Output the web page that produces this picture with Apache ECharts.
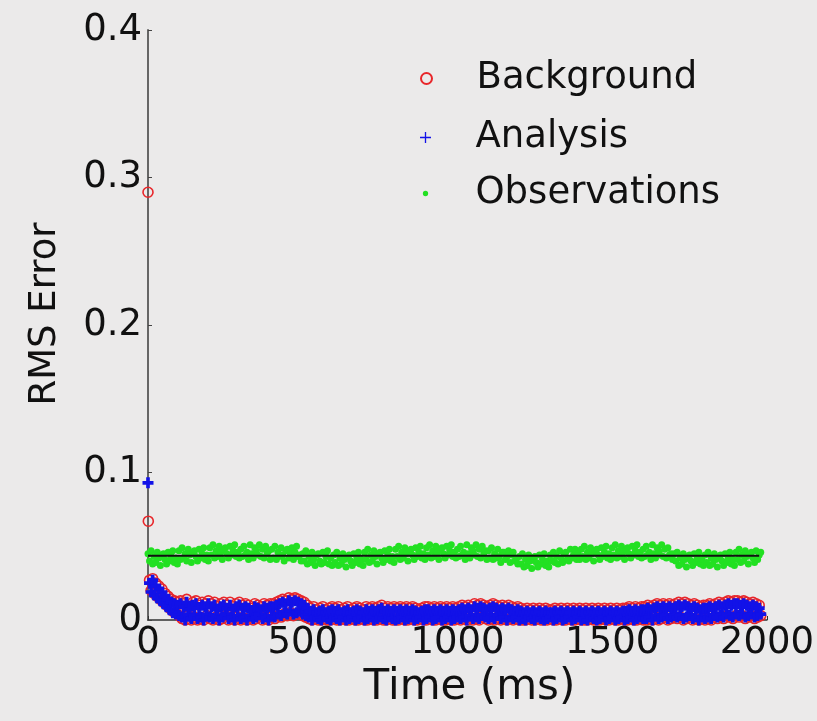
<!DOCTYPE html>
<html><head><meta charset="utf-8">
<script src="https://cdn.jsdelivr.net/npm/echarts@6/dist/echarts.min.js"></script>
<style>html,body{margin:0;padding:0;background:#ebeaea}#c{width:817px;height:721px}</style>
</head><body><div id="c"></div>
<script>
// ---- data ----
const xTickLabels = ['0', '500', '1000', '1500', '2000'];
const xTicks = [0, 500, 1000, 1500, 2000];
const yTicks = [0, 0.1, 0.2, 0.3, 0.4];
const stepMs = 5;
// first cycles (drawn at t ~ 0)
const backgroundStartT = [0, 1];
const backgroundStartV = [0.290, 0.067];
const analysisStartT = [0];
const analysisStartV = [0.093];
// regular samples, t = 5, 10, ... 1980 ms
const analysisRms = [
0.025,0.019,0.027,0.017,0.023,0.015,0.021,0.013,0.019,0.011,0.016,0.009,0.014,0.007,0.012,0.005,0.011,0.004,0.010,0.003,
0.011,0.002,0.009,0.000,0.012,0.004,0.007,0.001,0.010,0.003,0.011,0.001,0.008,0.002,0.010,0.000,0.009,0.004,0.011,0.002,
0.009,0.001,0.010,0.003,0.007,0.000,0.009,0.002,0.010,0.004,0.008,0.001,0.010,0.002,0.007,0.000,0.009,0.003,0.010,0.001,
0.008,0.002,0.009,0.000,0.008,0.003,0.006,0.001,0.009,0.002,0.008,0.004,0.007,0.001,0.009,0.002,0.008,0.000,0.009,0.003,
0.009,0.002,0.010,0.004,0.011,0.003,0.012,0.005,0.011,0.004,0.013,0.006,0.012,0.004,0.013,0.005,0.012,0.006,0.011,0.004,
0.010,0.003,0.008,0.002,0.006,0.000,0.007,0.002,0.005,0.001,0.006,0.000,0.007,0.002,0.005,0.001,0.006,0.000,0.007,0.002,
0.006,0.001,0.007,0.000,0.005,0.002,0.006,0.000,0.007,0.001,0.005,0.002,0.006,0.000,0.007,0.001,0.006,0.002,0.005,0.000,
0.007,0.001,0.006,0.002,0.007,0.000,0.006,0.001,0.007,0.002,0.008,0.001,0.006,0.000,0.007,0.002,0.006,0.001,0.007,0.000,
0.006,0.001,0.007,0.002,0.006,0.000,0.007,0.001,0.006,0.002,0.007,0.000,0.006,0.001,0.005,0.002,0.006,0.000,0.007,0.001,
0.007,0.002,0.006,0.000,0.007,0.001,0.006,0.002,0.007,0.000,0.006,0.001,0.007,0.002,0.006,0.000,0.007,0.001,0.006,0.002,
0.007,0.001,0.008,0.002,0.007,0.000,0.008,0.003,0.007,0.001,0.009,0.002,0.008,0.001,0.009,0.003,0.008,0.002,0.007,0.001,
0.008,0.002,0.009,0.001,0.008,0.003,0.007,0.001,0.008,0.002,0.007,0.000,0.008,0.002,0.007,0.001,0.006,0.002,0.007,0.000,
0.006,0.001,0.005,0.000,0.006,0.002,0.005,0.001,0.006,0.000,0.005,0.002,0.006,0.001,0.005,0.000,0.006,0.001,0.005,0.002,
0.005,0.000,0.006,0.001,0.005,0.002,0.006,0.000,0.005,0.001,0.006,0.002,0.005,0.000,0.006,0.001,0.005,0.002,0.006,0.000,
0.005,0.001,0.006,0.000,0.005,0.002,0.006,0.001,0.005,0.000,0.006,0.001,0.005,0.002,0.006,0.000,0.005,0.001,0.006,0.002,
0.005,0.000,0.006,0.001,0.005,0.002,0.006,0.000,0.006,0.001,0.007,0.002,0.006,0.000,0.007,0.001,0.006,0.002,0.007,0.001,
0.007,0.001,0.008,0.002,0.007,0.000,0.008,0.003,0.009,0.001,0.008,0.002,0.009,0.003,0.008,0.001,0.009,0.002,0.008,0.003,
0.009,0.002,0.010,0.003,0.009,0.001,0.010,0.002,0.009,0.003,0.008,0.001,0.009,0.002,0.008,0.000,0.007,0.002,0.008,0.001,
0.008,0.002,0.009,0.001,0.008,0.003,0.009,0.002,0.010,0.003,0.009,0.002,0.010,0.004,0.011,0.003,0.010,0.002,0.011,0.004,
0.011,0.003,0.010,0.004,0.011,0.002,0.010,0.003,0.009,0.004,0.010,0.002,0.009,0.003,0.008,0.004];
const backgroundRms = [
0.027,0.020,0.028,0.018,0.025,0.016,0.023,0.014,0.021,0.012,0.018,0.010,0.016,0.008,0.014,0.006,0.013,0.005,0.012,0.003,
0.013,0.001,0.011,0.000,0.014,0.003,0.009,0.000,0.012,0.002,0.013,0.000,0.010,0.001,0.012,0.000,0.011,0.003,0.013,0.001,
0.011,0.000,0.012,0.002,0.009,0.000,0.011,0.001,0.012,0.003,0.010,0.000,0.012,0.001,0.009,0.000,0.011,0.002,0.012,0.000,
0.010,0.001,0.011,0.000,0.010,0.002,0.008,0.000,0.011,0.001,0.010,0.003,0.009,0.000,0.011,0.001,0.010,0.000,0.011,0.002,
0.011,0.001,0.012,0.003,0.013,0.002,0.014,0.004,0.013,0.003,0.015,0.005,0.014,0.003,0.015,0.004,0.014,0.005,0.013,0.003,
0.012,0.002,0.010,0.001,0.008,0.000,0.009,0.001,0.007,0.000,0.008,0.000,0.009,0.001,0.007,0.000,0.008,0.000,0.009,0.001,
0.008,0.000,0.009,0.000,0.007,0.001,0.008,0.000,0.009,0.000,0.007,0.001,0.008,0.000,0.009,0.000,0.008,0.001,0.007,0.000,
0.009,0.000,0.008,0.001,0.009,0.000,0.008,0.000,0.009,0.001,0.010,0.000,0.008,0.000,0.009,0.001,0.008,0.000,0.009,0.000,
0.008,0.000,0.009,0.001,0.008,0.000,0.009,0.000,0.008,0.001,0.009,0.000,0.008,0.000,0.007,0.001,0.008,0.000,0.009,0.000,
0.009,0.001,0.008,0.000,0.009,0.000,0.008,0.001,0.009,0.000,0.008,0.000,0.009,0.001,0.008,0.000,0.009,0.000,0.008,0.001,
0.009,0.000,0.010,0.001,0.009,0.000,0.010,0.002,0.009,0.000,0.011,0.001,0.010,0.000,0.011,0.002,0.010,0.001,0.009,0.000,
0.010,0.001,0.011,0.000,0.010,0.002,0.009,0.000,0.010,0.001,0.009,0.000,0.010,0.001,0.009,0.000,0.008,0.001,0.009,0.000,
0.008,0.000,0.007,0.000,0.008,0.001,0.007,0.000,0.008,0.000,0.007,0.001,0.008,0.000,0.007,0.000,0.008,0.000,0.007,0.001,
0.007,0.000,0.008,0.000,0.007,0.001,0.008,0.000,0.007,0.000,0.008,0.001,0.007,0.000,0.008,0.000,0.007,0.001,0.008,0.000,
0.007,0.000,0.008,0.000,0.007,0.001,0.008,0.000,0.007,0.000,0.008,0.000,0.007,0.001,0.008,0.000,0.007,0.000,0.008,0.001,
0.007,0.000,0.008,0.000,0.007,0.001,0.008,0.000,0.008,0.000,0.009,0.001,0.008,0.000,0.009,0.000,0.008,0.001,0.009,0.000,
0.009,0.000,0.010,0.001,0.009,0.000,0.010,0.002,0.011,0.000,0.010,0.001,0.011,0.002,0.010,0.000,0.011,0.001,0.010,0.002,
0.011,0.001,0.012,0.002,0.011,0.000,0.012,0.001,0.011,0.002,0.010,0.000,0.011,0.001,0.010,0.000,0.009,0.001,0.010,0.000,
0.010,0.001,0.011,0.000,0.010,0.002,0.011,0.001,0.012,0.002,0.011,0.001,0.012,0.003,0.013,0.002,0.012,0.001,0.013,0.003,
0.013,0.002,0.012,0.003,0.013,0.001,0.012,0.002,0.011,0.003,0.012,0.001,0.011,0.002,0.010,0.003];
// observations, t = 0, 5, ... 1980 ms
const observationRms = [
0.045,0.040,0.047,0.038,0.043,0.039,0.046,0.042,0.037,0.044,0.045,0.041,0.038,0.046,0.040,0.043,0.047,0.039,0.042,0.038,
0.047,0.041,0.049,0.042,0.045,0.040,0.048,0.044,0.039,0.046,0.047,0.043,0.040,0.048,0.042,0.045,0.049,0.041,0.044,0.040,
0.049,0.044,0.051,0.042,0.047,0.043,0.050,0.046,0.041,0.048,0.049,0.045,0.042,0.050,0.044,0.047,0.051,0.043,0.046,0.042,
0.048,0.043,0.050,0.044,0.046,0.041,0.051,0.045,0.042,0.049,0.047,0.044,0.051,0.043,0.048,0.042,0.050,0.045,0.047,0.041,
0.048,0.042,0.050,0.041,0.046,0.043,0.049,0.044,0.040,0.047,0.048,0.042,0.045,0.049,0.041,0.046,0.050,0.043,0.044,0.040,
0.045,0.040,0.047,0.038,0.043,0.039,0.046,0.041,0.037,0.044,0.045,0.040,0.038,0.046,0.039,0.043,0.047,0.038,0.042,0.037,
0.044,0.039,0.046,0.037,0.042,0.038,0.045,0.041,0.036,0.043,0.044,0.040,0.037,0.045,0.039,0.042,0.046,0.038,0.041,0.037,
0.046,0.041,0.048,0.039,0.044,0.040,0.047,0.043,0.038,0.045,0.046,0.042,0.039,0.047,0.041,0.044,0.048,0.040,0.043,0.039,
0.048,0.043,0.050,0.041,0.046,0.042,0.049,0.045,0.040,0.047,0.048,0.044,0.041,0.049,0.043,0.046,0.050,0.042,0.045,0.041,
0.049,0.044,0.051,0.042,0.047,0.043,0.050,0.046,0.041,0.048,0.049,0.045,0.042,0.050,0.044,0.047,0.051,0.043,0.046,0.042,
0.048,0.043,0.050,0.044,0.046,0.041,0.051,0.045,0.042,0.049,0.047,0.044,0.051,0.043,0.048,0.042,0.050,0.045,0.047,0.041,
0.047,0.042,0.049,0.041,0.045,0.042,0.048,0.043,0.039,0.046,0.046,0.041,0.043,0.047,0.039,0.044,0.046,0.040,0.041,0.038,
0.043,0.038,0.045,0.036,0.041,0.037,0.044,0.040,0.035,0.042,0.043,0.039,0.036,0.044,0.038,0.041,0.045,0.037,0.040,0.036,
0.044,0.040,0.046,0.039,0.043,0.038,0.047,0.042,0.039,0.045,0.046,0.041,0.040,0.048,0.042,0.044,0.048,0.041,0.045,0.041,
0.048,0.043,0.050,0.041,0.046,0.042,0.049,0.045,0.040,0.047,0.048,0.044,0.041,0.049,0.043,0.046,0.050,0.042,0.045,0.041,
0.049,0.044,0.051,0.042,0.047,0.043,0.050,0.046,0.041,0.048,0.049,0.045,0.042,0.050,0.044,0.047,0.051,0.043,0.046,0.042,
0.048,0.043,0.050,0.044,0.046,0.041,0.051,0.045,0.042,0.049,0.047,0.044,0.051,0.043,0.048,0.042,0.049,0.044,0.045,0.041,
0.045,0.040,0.046,0.037,0.042,0.038,0.045,0.041,0.036,0.043,0.044,0.040,0.037,0.045,0.039,0.042,0.046,0.038,0.041,0.037,
0.044,0.039,0.046,0.037,0.042,0.038,0.045,0.041,0.036,0.043,0.044,0.040,0.037,0.045,0.039,0.042,0.046,0.038,0.041,0.037,
0.046,0.041,0.048,0.039,0.044,0.040,0.047,0.043,0.038,0.045,0.046,0.042,0.039,0.047,0.041,0.044,0.046];
const obsErrorLevel = 0.0435;
const obsLineT = [0, 1975];

// ---- build series data ----
const bgData = backgroundStartT.map((t, i) => [t, backgroundStartV[i]])
  .concat(backgroundRms.map((v, i) => [(i + 1) * stepMs, v]));
const anData = analysisStartT.map((t, i) => [t, analysisStartV[i]])
  .concat(analysisRms.map((v, i) => [(i + 1) * stepMs, v]));
const obData = observationRms.map((v, i) => [i * stepMs, v]);
const lineData = obsLineT.map(t => [t, obsErrorLevel]);

const FONT = 'DejaVu Sans';
const plusPath = 'path://M4,0H8V4H12V8H8V12H4V8H0V4H4Z';
const legendPlus = 'path://M4.4,0H5.6V4.4H10V5.6H5.6V10H4.4V5.6H0V4.4H4.4Z';
const smallDot = 'path://M0,0M10,10M2.6,5A2.4,2.4,0,1,1,7.4,5A2.4,2.4,0,1,1,2.6,5Z';
const chart = echarts.init(document.getElementById('c'));
const legendBase = {
  orient: 'vertical', left: 415, itemWidth: 90, itemHeight: 11,
  textStyle: { fontFamily: FONT, fontSize: 37, color: '#111' },
  selectedMode: false
};
chart.setOption({
  animation: false,
  backgroundColor: '#ebeaea',
  grid: { left: 148, right: 47, top: 30, bottom: 101 },
  legend: [
    Object.assign({}, legendBase, { top: 55, data: ['Background'] }),
    Object.assign({}, legendBase, { top: 114, data: [{ name: 'Analysis', icon: legendPlus }] }),
    Object.assign({}, legendBase, { top: 170, data: [{ name: 'Observations', icon: smallDot }] })
  ],
  xAxis: {
    type: 'value', min: xTicks[0], max: xTicks[xTicks.length - 1],
    interval: xTicks[1] - xTicks[0],
    name: 'Time (ms)', nameLocation: 'middle', nameGap: 44,
    nameTextStyle: { fontFamily: FONT, fontSize: 42, color: '#111', padding: [0, 0, 0, 24] },
    axisLine: { lineStyle: { color: '#333', width: 1.5 } },
    axisTick: { inside: true, length: 4, lineStyle: { color: '#333' } },
    axisLabel: { fontFamily: FONT, fontSize: 37, color: '#111', margin: 5,
      formatter: v => xTickLabels[xTicks.indexOf(v)] },
    splitLine: { show: false }
  },
  yAxis: {
    type: 'value', min: yTicks[0], max: yTicks[yTicks.length - 1],
    interval: 0.1,
    name: 'RMS Error', nameLocation: 'middle', nameGap: 84,
    nameTextStyle: { fontFamily: FONT, fontSize: 37, color: '#111', padding: [0, 0, 0, 22] },
    axisLine: { show: true, lineStyle: { color: '#666', width: 2 } },
    axisTick: { show: true, inside: true, length: 4, lineStyle: { color: '#444' } },
    axisLabel: { fontFamily: FONT, fontSize: 37, color: '#111', margin: 6 },
    splitLine: { show: false }
  },
  series: [
    { name: 'Background', type: 'scatter', data: bgData, symbol: 'circle', symbolSize: 10, z: 2,
      itemStyle: { opacity: 1, color: 'rgba(0,0,0,0)', borderColor: '#e8262a', borderWidth: 1.6 } },
    { name: 'Analysis', type: 'scatter', data: anData, symbol: plusPath, symbolSize: 11, z: 3,
      itemStyle: { opacity: 1, color: '#1212e8' } },
    { name: 'Observations', type: 'scatter', data: obData, symbol: 'circle', symbolSize: 7, z: 4,
      itemStyle: { opacity: 1, color: '#22e022' } },
    { name: 'obsError', type: 'line', data: lineData, symbol: 'none',
      lineStyle: { color: '#111', width: 2 }, z: 5 }
  ]
});
</script>
</body></html>
